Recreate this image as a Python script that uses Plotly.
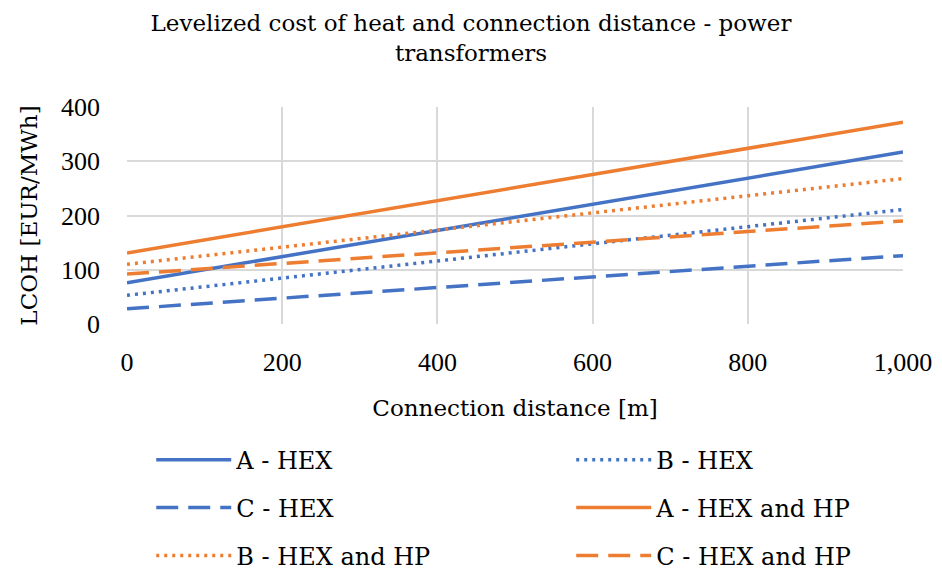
import plotly.graph_objects as go

distance = [0, 1000]
a_hex = [76, 317]
b_hex = [53, 211]
c_hex = [28, 126]
a_hex_hp = [131, 372]
b_hex_hp = [110, 268]
c_hex_hp = [92, 190]

BLUE = "#4472C4"
ORANGE = "#ED7D31"
FONT = "DejaVu Serif"
TICKFONT = "Liberation Serif"
DOT = "3px,5px"
DASH = "22px,10px"

# name, values, colour, dash, legend row
series = [
    ("A - HEX", a_hex, BLUE, "solid", "legend"),
    ("B - HEX", b_hex, BLUE, DOT, "legend"),
    ("C - HEX", c_hex, BLUE, DASH, "legend2"),
    ("A - HEX and HP", a_hex_hp, ORANGE, "solid", "legend2"),
    ("B - HEX and HP", b_hex_hp, ORANGE, DOT, "legend3"),
    ("C - HEX and HP", c_hex_hp, ORANGE, DASH, "legend3"),
]

fig = go.Figure()
for name, vals, color, dash, leg in series:
    fig.add_trace(go.Scatter(x=distance, y=vals, mode="lines", name=name,
                             legend=leg,
                             line=dict(color=color, width=3.5, dash=dash)))

def legend_row(ypos):
    return dict(orientation="h", x=-0.001, xanchor="left", y=ypos, yanchor="middle",
                entrywidth=330, entrywidthmode="pixels",
                borderwidth=25, bordercolor="rgba(0,0,0,0)",
                font=dict(family=FONT, size=24, color="#000000"),
                itemwidth=75, bgcolor="rgba(0,0,0,0)")

fig.update_layout(
    width=942, height=568,
    margin=dict(l=127, r=39, t=107, b=244, autoexpand=False),
    paper_bgcolor="white", plot_bgcolor="white",
    font=dict(family=FONT, size=23, color="#000000"),
    title=dict(text="Levelized cost of heat and connection distance - power<br>transformers",
               x=0.5, xanchor="center", y=0.945, yanchor="middle",
               font=dict(family=FONT, size=23, color="#000000")),
    xaxis=dict(range=[0, 1000], tickvals=[0, 200, 400, 600, 800, 1000],
               ticktext=["0", "200", "400", "600", "800", "1,000"],
               tickfont=dict(family=TICKFONT, size=26),
               showgrid=True, gridcolor="#d9d9d9", gridwidth=1.5,
               zeroline=False, showline=False, ticks="", ticklabelstandoff=20,
               title=dict(text="Connection distance [m]", font=dict(size=23), standoff=23)),
    yaxis=dict(range=[0, 400], tickvals=[0, 100, 200, 300, 400],
               tickfont=dict(family=TICKFONT, size=26),
               showgrid=True, gridcolor="#d9d9d9", gridwidth=1.5,
               zeroline=False, showline=False, ticks="", ticklabelstandoff=26,
               title=dict(text="LCOH [EUR/MWh]", font=dict(size=23), standoff=16)),
    legend=legend_row(-0.627),
    legend2=legend_row(-0.848),
    legend3=legend_row(-1.069),
    showlegend=True,
)

fig.write_html("out.html", config={"displayModeBar": False},
               post_script="document.body.style.margin='0';")
